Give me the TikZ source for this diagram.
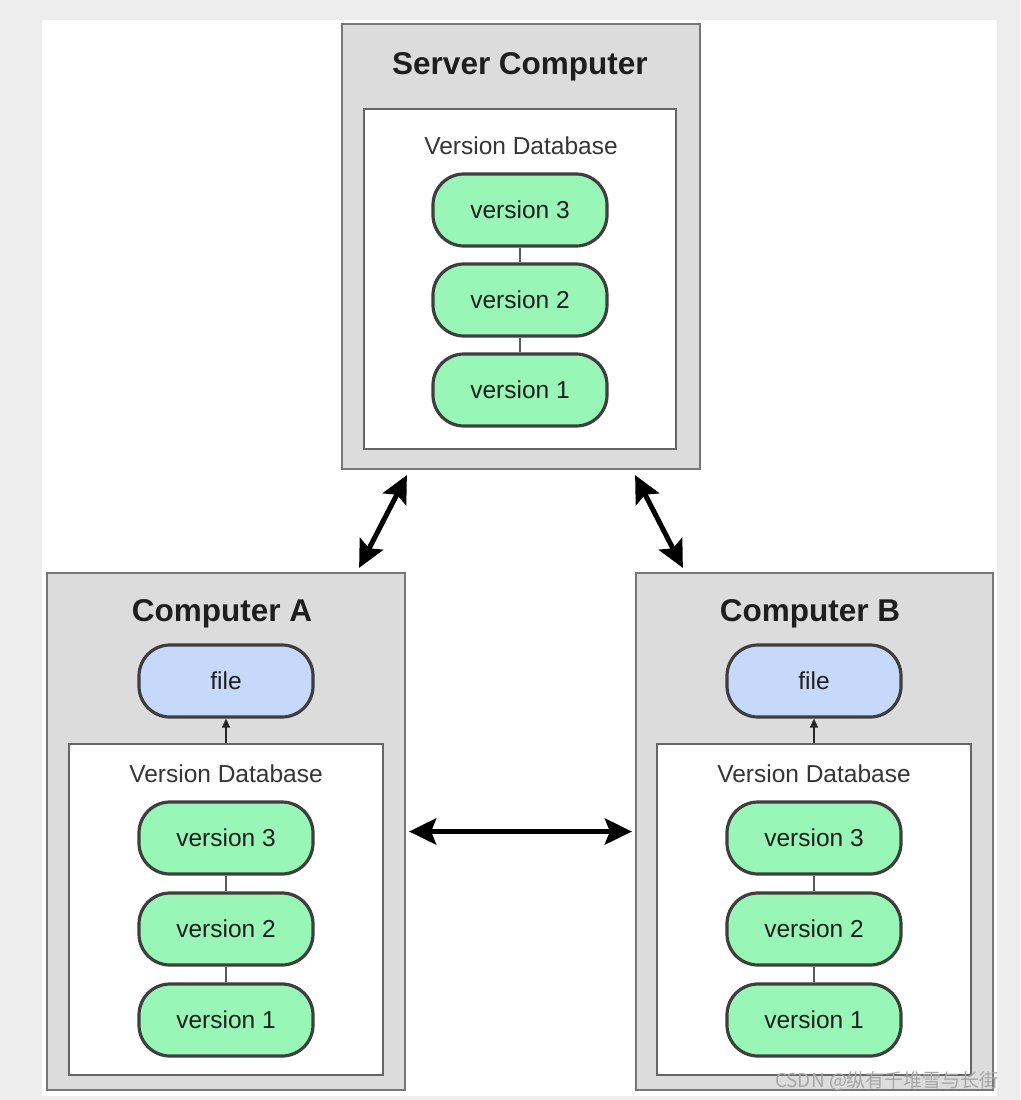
\documentclass[tikz,border=0pt]{standalone}
\usepackage{fontspec}
\setmainfont{Liberation Sans}
\newfontfamily\cjkfont{Noto Sans CJK SC}
\usetikzlibrary{arrows.meta,calc}
\definecolor{bggray}{HTML}{EDEDED}
\definecolor{boxgray}{HTML}{DCDCDC}
\definecolor{boxline}{HTML}{777777}
\definecolor{innerline}{HTML}{666666}
\definecolor{pillgreen}{HTML}{98F7B6}
\definecolor{pillblue}{HTML}{C6D9FA}
\definecolor{pillline}{HTML}{3E3E3E}
\definecolor{txt}{HTML}{1E1E1E}
\begin{document}
\begin{tikzpicture}[x=1pt,y=-1pt,
  outerbox/.style={draw=boxline, fill=boxgray, line width=2.2pt, inner sep=0pt},
  innerbox/.style={draw=innerline, fill=white, line width=2.2pt, inner sep=0pt},
  pill/.style={draw=pillline, line width=3.2pt, rounded corners=31pt, minimum width=174pt, minimum height=72pt, inner sep=0pt, text=txt, font=\fontsize{24.5}{28}\selectfont},
  verpill/.style={pill, fill=pillgreen},
  filepill/.style={pill, fill=pillblue},
  titletext/.style={text=txt, font=\fontsize{31.5}{36}\selectfont\bfseries, inner sep=0pt},
  dbtext/.style={text=txt!90, font=\fontsize{24.5}{28}\selectfont, inner sep=0pt},
  link/.style={draw=black!65, line width=1.5pt},
  smallarrow/.style={draw=black!85, line width=1.5pt, -{Triangle[length=9pt,width=8pt]}},
  bigarrow/.style={draw=black, line width=5pt, {Stealth[length=27pt,width=26pt,inset=5pt]}-{Stealth[length=27pt,width=26pt,inset=5pt]}}
]
\useasboundingbox (0,0) rectangle (1020,1100);
\fill[bggray] (0,0) rectangle (1020,1100);
\fill[white] (42,20) rectangle (997,1096);

% Server
\node[outerbox, minimum width=358pt, minimum height=445pt] (srv) at (521,246.5) {};
\node[innerbox, minimum width=312pt, minimum height=340pt] (srvdb) at (520,279) {};
\node[titletext] (srvtitle) at (520,67) {Server Computer};
\node[dbtext] (srvdbl) at (521,146) {Version Database};
\node[verpill] (s3) at (520,210) {version 3};
\node[verpill] (s2) at (520,300) {version 2};
\node[verpill] (s1) at (520,390) {version 1};
\draw[link] (s3) -- (s2);
\draw[link] (s2) -- (s1);

% Computer A
\node[outerbox, minimum width=358pt, minimum height=517pt] (ca) at (226,831.5) {};
\node[innerbox, minimum width=314pt, minimum height=331pt] (cadb) at (226,909.5) {};
\node[titletext] (catitle) at (222,614) {Computer A};
\node[filepill] (afile) at (226,681) {file};
\node[dbtext] (cadbl) at (226,774) {Version Database};
\node[verpill] (a3) at (226,838) {version 3};
\node[verpill] (a2) at (226,929) {version 2};
\node[verpill] (a1) at (226,1020) {version 1};
\draw[link] (a3) -- (a2);
\draw[link] (a2) -- (a1);
\draw[smallarrow] (cadb.north) -- (afile.south);

% Computer B
\node[outerbox, minimum width=357pt, minimum height=517pt] (cb) at (814.5,831.5) {};
\node[innerbox, minimum width=314pt, minimum height=331pt] (cbdb) at (814,909.5) {};
\node[titletext] (cbtitle) at (810,614) {Computer B};
\node[filepill] (bfile) at (814,681) {file};
\node[dbtext] (cbdbl) at (814,774) {Version Database};
\node[verpill] (b3) at (814,838) {version 3};
\node[verpill] (b2) at (814,929) {version 2};
\node[verpill] (b1) at (814,1020) {version 1};
\draw[link] (b3) -- (b2);
\draw[link] (b2) -- (b1);
\draw[smallarrow] (cbdb.north) -- (bfile.south);

% Big arrows
\coordinate (srvL) at ($(srv.south west)+(66,5)$);
\coordinate (srvR) at ($(srv.south east)+(-66,5)$);
\coordinate (caT) at ($(ca.north east)+(-47,-4)$);
\coordinate (cbT) at ($(cb.north west)+(48,-4)$);
\draw[bigarrow] (srvL) -- (caT);
\draw[bigarrow] (srvR) -- (cbT);
\draw[bigarrow, shorten <=3pt, shorten >=3pt] (ca) -- (cb);

% watermark
\node[text=black!35, font=\cjkfont\fontsize{19}{22}\selectfont, inner sep=0pt] (wm) at (887,1081) {CSDN @纵有千堆雪与长街};
\end{tikzpicture}
\end{document}
